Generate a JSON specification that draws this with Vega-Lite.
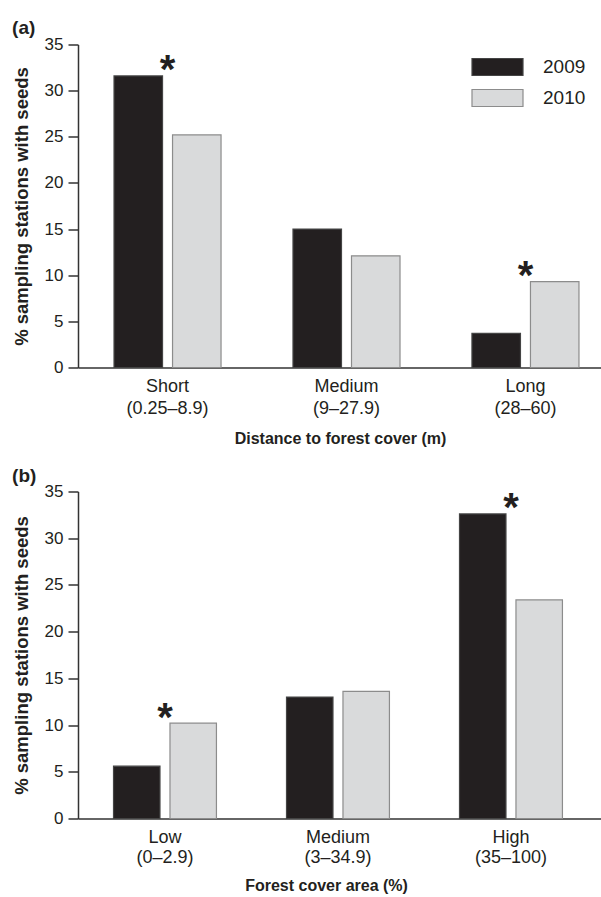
{
  "$schema": "https://vega.github.io/schema/vega-lite/v6.json",
  "background": "white",
  "padding": {"left": 12, "top": 18.5, "right": 0, "bottom": 0},
  "datasets": {
    "a": [
      {"cat": "Short (0.25–8.9)", "year": "2009", "value": 31.6, "sig": true},
      {"cat": "Short (0.25–8.9)", "year": "2010", "value": 25.2, "sig": true},
      {"cat": "Medium (9–27.9)", "year": "2009", "value": 15.0, "sig": false},
      {"cat": "Medium (9–27.9)", "year": "2010", "value": 12.1, "sig": false},
      {"cat": "Long (28–60)", "year": "2009", "value": 3.7, "sig": true},
      {"cat": "Long (28–60)", "year": "2010", "value": 9.3, "sig": true}
    ],
    "b": [
      {"cat": "Low (0–2.9)", "year": "2009", "value": 5.6, "sig": true},
      {"cat": "Low (0–2.9)", "year": "2010", "value": 10.2, "sig": true},
      {"cat": "Medium (3–34.9)", "year": "2009", "value": 13.0, "sig": false},
      {"cat": "Medium (3–34.9)", "year": "2010", "value": 13.6, "sig": false},
      {"cat": "High (35–100)", "year": "2009", "value": 32.6, "sig": true},
      {"cat": "High (35–100)", "year": "2010", "value": 23.4, "sig": true}
    ]
  },
  "spacing": 20,
  "resolve": {
    "scale": {"x": "independent", "y": "independent", "xOffset": "independent", "fill": "independent", "stroke": "independent"},
    "axis": {"x": "independent", "y": "independent"},
    "legend": {"fill": "independent", "stroke": "independent"}
  },
  "vconcat": [
    {
      "width": 524,
      "height": 323,
      "title": {"text": "(a)", "anchor": "start", "frame": "bounds", "fontSize": 19, "fontWeight": "bold", "color": "#231f20", "offset": -2.5},
      "data": {"name": "a"},
      "layer": [
        {
          "mark": {"type": "bar", "strokeWidth": 1.2},
          "encoding": {
            "x": {
              "field": "cat", "type": "nominal", "sort": null,
              "scale": {"domain": ["Short (0.25–8.9)", "Medium (9–27.9)", "Long (28–60)"], "paddingInner": 0.402, "paddingOuter": 0.165, "align": 0.61},
              "title": "Distance to forest cover (m)",
              "axis": {"ticks": false, "labelAngle": 0, "labelFontSize": 18, "labelPadding": 10, "labelLineHeight": 22, "labelExpr": "split(datum.label, ' ')", "titleFontSize": 16, "titleFontWeight": "bold", "titlePadding": 12.5, "domainWidth": 1.5}
            },
            "xOffset": {"field": "year", "type": "nominal", "scale": {"paddingInner": 0.171, "paddingOuter": 0}},
            "y": {
              "field": "value", "type": "quantitative",
              "scale": {"domain": [0, 35]},
              "title": "% sampling stations with seeds",
              "axis": {"values": [0, 5, 10, 15, 20, 25, 30, 35], "tickSize": 10, "tickWidth": 1.5, "domainWidth": 1.5, "labelPadding": 5, "labelFontSize": 17, "titleFontSize": 18.5, "titleFontWeight": "bold", "titlePadding": 13}
            },
            "fill": {
              "field": "year", "type": "nominal",
              "scale": {"domain": ["2009", "2010"], "range": ["#231f20", "#d9dadb"]},
              "legend": {"orient": "none", "legendX": 410, "legendY": 13, "title": null, "symbolType": "M-3,-1H3V1H-3Z", "symbolSize": 289, "symbolStrokeWidth": 1.2, "labelFontSize": 19, "labelOffset": 36, "rowPadding": 8, "padding": 0}
            },
            "stroke": {
              "field": "year", "type": "nominal",
              "scale": {"domain": ["2009", "2010"], "range": ["#444444", "#8c8c8c"]},
              "legend": {"orient": "none", "legendX": 410, "legendY": 13, "title": null, "symbolType": "M-3,-1H3V1H-3Z", "symbolSize": 289, "symbolStrokeWidth": 1.2, "labelFontSize": 19, "labelOffset": 36, "rowPadding": 8, "padding": 0}
            }
          }
        },
        {
          "transform": [
            {"filter": "datum.sig"},
            {"aggregate": [{"op": "max", "field": "value", "as": "top"}], "groupby": ["cat"]}
          ],
          "mark": {"type": "text", "text": "*", "fontSize": 40, "fontWeight": "bold", "baseline": "alphabetic", "dy": 7.5, "color": "#231f20"},
          "encoding": {
            "x": {"field": "cat", "type": "nominal", "sort": null},
            "y": {"field": "top", "type": "quantitative"}
          }
        }
      ]
    },
    {
      "width": 524,
      "height": 327,
      "title": {"text": "(b)", "anchor": "start", "frame": "bounds", "fontSize": 19, "fontWeight": "bold", "color": "#231f20", "offset": -3},
      "data": {"name": "b"},
      "layer": [
        {
          "mark": {"type": "bar", "strokeWidth": 1.2},
          "encoding": {
            "x": {
              "field": "cat", "type": "nominal", "sort": null,
              "scale": {"domain": ["Low (0–2.9)", "Medium (3–34.9)", "High (35–100)"], "paddingInner": 0.405, "paddingOuter": 0.217, "align": 0.473},
              "title": "Forest cover area (%)",
              "axis": {"ticks": false, "labelAngle": 0, "labelFontSize": 18, "labelPadding": 10, "labelLineHeight": 20, "labelExpr": "split(datum.label, ' ')", "titleFontSize": 16, "titleFontWeight": "bold", "titlePadding": 11, "titleX": 248, "domainWidth": 1.5}
            },
            "xOffset": {"field": "year", "type": "nominal", "scale": {"paddingInner": 0.177, "paddingOuter": 0}},
            "y": {
              "field": "value", "type": "quantitative",
              "scale": {"domain": [0, 35]},
              "title": "% sampling stations with seeds",
              "axis": {"values": [0, 5, 10, 15, 20, 25, 30, 35], "tickSize": 10, "tickWidth": 1.5, "domainWidth": 1.5, "labelPadding": 5, "labelFontSize": 17, "titleFontSize": 18.5, "titleFontWeight": "bold", "titlePadding": 13}
            },
            "fill": {
              "field": "year", "type": "nominal",
              "scale": {"domain": ["2009", "2010"], "range": ["#231f20", "#d9dadb"]},
              "legend": null
            },
            "stroke": {
              "field": "year", "type": "nominal",
              "scale": {"domain": ["2009", "2010"], "range": ["#444444", "#8c8c8c"]},
              "legend": null
            }
          }
        },
        {
          "transform": [
            {"filter": "datum.sig"},
            {"aggregate": [{"op": "max", "field": "value", "as": "top"}], "groupby": ["cat"]}
          ],
          "mark": {"type": "text", "text": "*", "fontSize": 40, "fontWeight": "bold", "baseline": "alphabetic", "dy": 7.5, "color": "#231f20"},
          "encoding": {
            "x": {"field": "cat", "type": "nominal", "sort": null},
            "y": {"field": "top", "type": "quantitative"}
          }
        }
      ]
    }
  ],
  "config": {
    "font": "Liberation Sans",
    "view": {"stroke": null},
    "axis": {"domainColor": "#333333", "tickColor": "#333333", "labelColor": "#231f20", "titleColor": "#231f20", "grid": false, "labelFont": "Liberation Sans", "titleFont": "Liberation Sans"},
    "legend": {"labelColor": "#231f20", "labelFont": "Liberation Sans"},
    "title": {"font": "Liberation Sans"}
  }
}
